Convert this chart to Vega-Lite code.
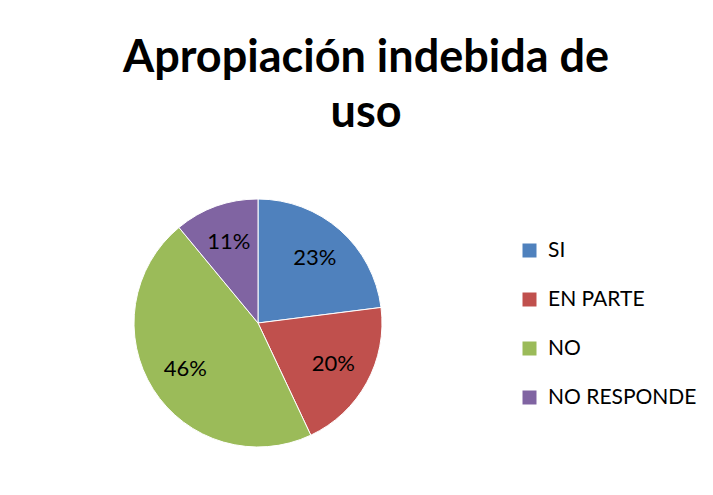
{
  "$schema": "https://vega.github.io/schema/vega-lite/v6.json",
  "width": 248,
  "height": 248,
  "autosize": {"type": "none"},
  "padding": {"left": 134, "top": 199, "right": 331, "bottom": 48},
  "background": "white",
  "config": {"view": {"stroke": null}, "font": "Lato"},
  "title": {
    "text": ["Apropiación indebida de", "uso"],
    "font": "Lato",
    "fontSize": 45,
    "fontWeight": "bold",
    "lineHeight": 55,
    "color": "black",
    "anchor": "middle",
    "frame": "group",
    "baseline": "alphabetic",
    "dx": 108,
    "offset": 25
  },
  "data": {
    "values": [
      {"respuesta": "SI", "porcentaje": 0.23, "orden": 1},
      {"respuesta": "EN PARTE", "porcentaje": 0.20, "orden": 2},
      {"respuesta": "NO", "porcentaje": 0.46, "orden": 3},
      {"respuesta": "NO RESPONDE", "porcentaje": 0.11, "orden": 4}
    ]
  },
  "encoding": {
    "theta": {"field": "porcentaje", "type": "quantitative", "stack": true},
    "order": {"field": "orden", "type": "quantitative"}
  },
  "layer": [
    {
      "mark": {"type": "arc", "stroke": "white", "strokeWidth": 1},
      "encoding": {
        "color": {
          "field": "respuesta",
          "type": "nominal",
          "scale": {
            "domain": ["SI", "EN PARTE", "NO", "NO RESPONDE"],
            "range": ["#4F81BD", "#C0504D", "#9BBB59", "#8064A2"]
          },
          "legend": {
            "orient": "none",
            "legendX": 385,
            "legendY": 41,
            "title": null,
            "padding": 0,
            "symbolType": "square",
            "symbolSize": 196,
            "symbolStrokeWidth": 0,
            "labelFont": "Lato",
            "labelFontSize": 21,
            "labelColor": "black",
            "labelOffset": 8,
            "rowPadding": 27
          }
        }
      }
    },
    {
      "mark": {"type": "text", "radius": 86, "font": "Lato", "fontSize": 22, "color": "black"},
      "encoding": {
        "text": {"field": "porcentaje", "type": "quantitative", "format": ".0%"}
      }
    }
  ]
}
